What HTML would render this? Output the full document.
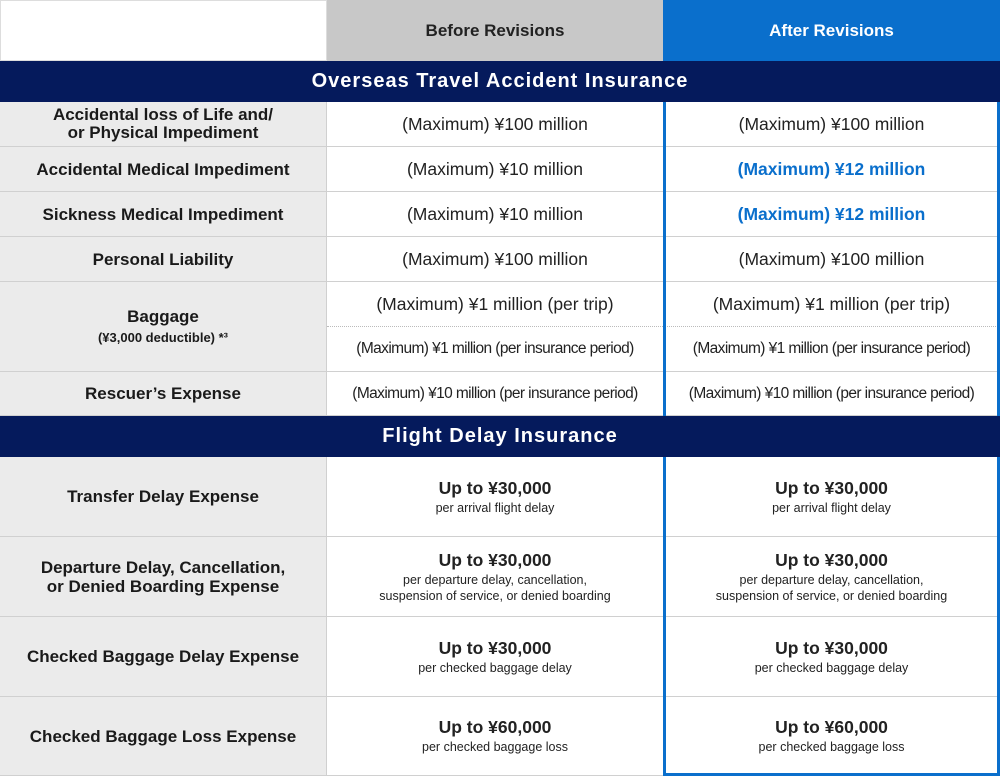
<!DOCTYPE html>
<html><head><style>
*{margin:0;padding:0;box-sizing:border-box}
body{width:1000px;height:780px;background:#fff;position:relative;font-family:"Liberation Sans",sans-serif;color:#222;overflow:hidden}
.c{position:absolute;display:flex;flex-direction:column;align-items:center;justify-content:center;text-align:center;border-bottom:1px solid #d0d0d0}
.l{background:#ebebeb;left:0;width:327px;font-size:17px;font-weight:bold;line-height:19px;border-right:1px solid #d0d0d0;color:#1a1a1a}
.b{left:327px;width:336px;font-size:17.5px}
.a{left:663px;width:337px;font-size:17.5px}
.n{font-size:15.5px;letter-spacing:-0.6px}
.band{position:absolute;left:0;width:1000px;background:#051a5c;color:#fff;font-weight:bold;font-size:20px;letter-spacing:1px;display:flex;align-items:center;justify-content:center}
.blue{color:#0a6fcc;font-weight:bold}
.big{font-weight:bold;font-size:17.5px;line-height:20px;margin-bottom:2px}
.sm{font-size:12.5px;line-height:16px}
.dot{border-bottom:1px dotted #bbb}
</style></head><body>
<div class="c" style="left:0;top:0;width:327px;height:61px;border:1px solid #ddd"></div>
<div class="c" style="left:327px;top:0;width:336px;height:61px;background:#c8c8c8;font-size:17px;font-weight:bold;border:none">Before Revisions</div>
<div class="c" style="left:663px;top:0;width:337px;height:61px;background:#0a6fcc;color:#fff;font-size:17px;font-weight:bold;border:none">After Revisions</div>
<div class="band" style="top:61px;height:41px">Overseas Travel Accident Insurance</div>

<div class="c l" style="top:102px;height:45px;line-height:18px">Accidental loss of Life and/<br>or Physical Impediment</div>
<div class="c b" style="top:102px;height:45px">(Maximum) ¥100 million</div>
<div class="c a" style="top:102px;height:45px">(Maximum) ¥100 million</div>

<div class="c l" style="top:147px;height:45px">Accidental Medical Impediment</div>
<div class="c b" style="top:147px;height:45px">(Maximum) ¥10 million</div>
<div class="c a blue" style="top:147px;height:45px">(Maximum) ¥12 million</div>

<div class="c l" style="top:192px;height:45px">Sickness Medical Impediment</div>
<div class="c b" style="top:192px;height:45px">(Maximum) ¥10 million</div>
<div class="c a blue" style="top:192px;height:45px">(Maximum) ¥12 million</div>

<div class="c l" style="top:237px;height:45px">Personal Liability</div>
<div class="c b" style="top:237px;height:45px">(Maximum) ¥100 million</div>
<div class="c a" style="top:237px;height:45px">(Maximum) ¥100 million</div>

<div class="c l" style="top:282px;height:90px">Baggage<div style="font-size:13px;margin-top:2px">(¥3,000 deductible) *³</div></div>
<div class="c b dot" style="top:282px;height:45px">(Maximum) ¥1 million (per trip)</div>
<div class="c a dot" style="top:282px;height:45px">(Maximum) ¥1 million (per trip)</div>
<div class="c b n" style="top:327px;height:45px">(Maximum) ¥1 million (per insurance period)</div>
<div class="c a n" style="top:327px;height:45px">(Maximum) ¥1 million (per insurance period)</div>

<div class="c l" style="top:372px;height:44px">Rescuer’s Expense</div>
<div class="c b n" style="top:372px;height:44px">(Maximum) ¥10 million (per insurance period)</div>
<div class="c a n" style="top:372px;height:44px">(Maximum) ¥10 million (per insurance period)</div>

<div class="band" style="top:416px;height:41px">Flight Delay Insurance</div>

<div class="c l" style="top:457px;height:80px">Transfer Delay Expense</div>
<div class="c b" style="top:457px;height:80px"><div class="big">Up to ¥30,000</div><div class="sm">per arrival flight delay</div></div>
<div class="c a" style="top:457px;height:80px"><div class="big">Up to ¥30,000</div><div class="sm">per arrival flight delay</div></div>

<div class="c l" style="top:537px;height:80px">Departure Delay, Cancellation,<br>or Denied Boarding Expense</div>
<div class="c b" style="top:537px;height:80px"><div class="big">Up to ¥30,000</div><div class="sm">per departure delay, cancellation,<br>suspension of service, or denied boarding</div></div>
<div class="c a" style="top:537px;height:80px"><div class="big">Up to ¥30,000</div><div class="sm">per departure delay, cancellation,<br>suspension of service, or denied boarding</div></div>

<div class="c l" style="top:617px;height:80px">Checked Baggage Delay Expense</div>
<div class="c b" style="top:617px;height:80px"><div class="big">Up to ¥30,000</div><div class="sm">per checked baggage delay</div></div>
<div class="c a" style="top:617px;height:80px"><div class="big">Up to ¥30,000</div><div class="sm">per checked baggage delay</div></div>

<div class="c l" style="top:697px;height:79px">Checked Baggage Loss Expense</div>
<div class="c b" style="top:697px;height:79px"><div class="big">Up to ¥60,000</div><div class="sm">per checked baggage loss</div></div>
<div class="c a" style="top:697px;height:79px"><div class="big">Up to ¥60,000</div><div class="sm">per checked baggage loss</div></div>

<div style="position:absolute;left:663px;top:102px;width:337px;height:314px;border:3px solid #0a6fcc;border-top:none;border-bottom:none"></div>
<div style="position:absolute;left:663px;top:457px;width:337px;height:319px;border:3px solid #0a6fcc;border-top:none"></div>
</body></html>
